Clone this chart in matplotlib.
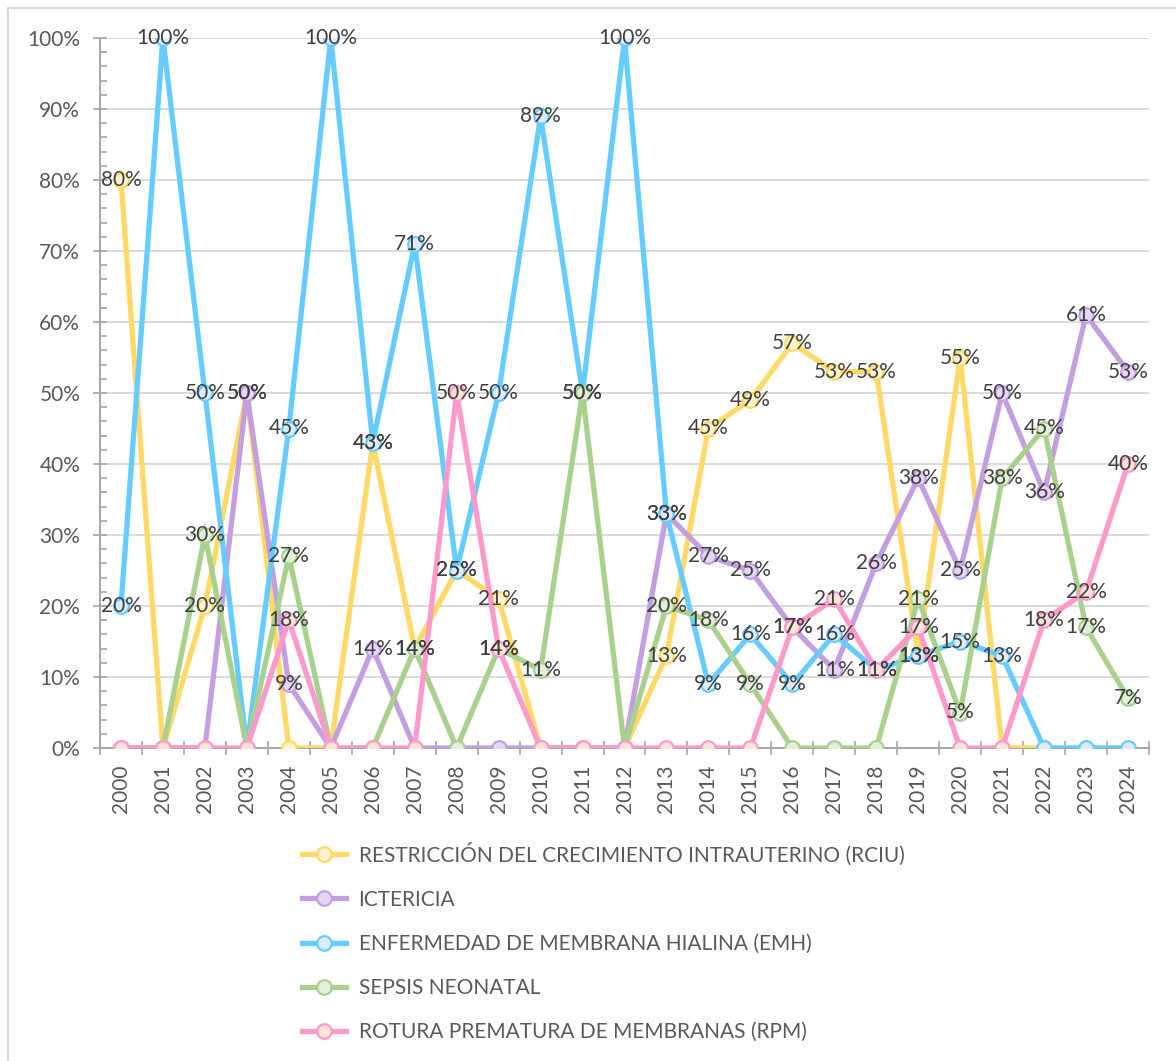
import matplotlib
matplotlib.use("Agg")
import matplotlib.pyplot as plt
from matplotlib.lines import Line2D
from matplotlib.ticker import MultipleLocator, FuncFormatter
import numpy as np

# Data (percent per year)
Years = [str(y) for y in range(2000, 2025)]

RCIU = [80, 0, 20, 50, 0, 0, 43, 14, 25, 21, 0, 0, 0, 13, 45, 49, 57, 53, 53, 13, 55, 0, 0, 0, 0]
Ictericia = [0, 0, 0, 50, 9, 0, 14, 0, 0, 0, 0, 0, 0, 33, 27, 25, 17, 11, 26, 38, 25, 50, 36, 61, 53]
EMH = [20, 100, 50, 0, 45, 100, 43, 71, 25, 50, 89, 50, 100, 33, 9, 16, 9, 16, 11, 13, 15, 13, 0, 0, 0]
Sepsis = [0, 0, 30, 0, 27, 0, 0, 14, 0, 14, 11, 50, 0, 20, 18, 9, 0, 0, 0, 21, 5, 38, 45, 17, 7]
RPM = [0, 0, 0, 0, 18, 0, 0, 0, 50, 14, 0, 0, 0, 0, 0, 0, 17, 21, 11, 17, 0, 0, 18, 22, 40]

SeriesNames = [
    "RESTRICCIÓN DEL CRECIMIENTO INTRAUTERINO (RCIU)",
    "ICTERICIA",
    "ENFERMEDAD DE MEMBRANA HIALINA (EMH)",
    "SEPSIS NEONATAL",
    "ROTURA PREMATURA DE MEMBRANAS (RPM)",
]
SeriesValues = [RCIU, Ictericia, EMH, Sepsis, RPM]
LineColors = ["#FFD966", "#C49FE0", "#66CCFF", "#A9D18E", "#FF99CC"]
FillColors = ["#FFF2CC", "#E6D6F5", "#DDEBF7", "#E2F0D9", "#FCE4D6"]

plt.rcParams["font.family"] = ["Lato", "DejaVu Sans"]

fig = plt.figure(figsize=(11.76, 10.61), dpi=100)
ax = fig.add_axes([100 / 1176, 1 - 748 / 1061, 1049 / 1176, 710 / 1061])

x = np.arange(len(Years))
for Name, Values, LineColor, FillColor in zip(SeriesNames, SeriesValues, LineColors, FillColors):
    ax.plot(x, np.array(Values) / 100, color=LineColor, linewidth=3.8, marker="o",
            markersize=10.5, markerfacecolor=FillColor, markeredgecolor=LineColor,
            markeredgewidth=1.6, label=Name, solid_joinstyle="miter", zorder=3)

# data labels (Excel hides the zero ones)
for Values in SeriesValues:
    for i, v in enumerate(Values):
        if v != 0:
            ax.text(x[i], v / 100, f"{v}%", ha="center", va="center",
                    fontsize=15, color="#404040", zorder=5)

ax.set_xlim(-0.5, len(Years) - 0.5)
ax.set_ylim(0, 1)

ax.yaxis.set_major_locator(MultipleLocator(0.1))
ax.yaxis.set_minor_locator(MultipleLocator(0.02))
ax.yaxis.set_major_formatter(FuncFormatter(lambda v, p: f"{v * 100:.0f}%"))
ax.tick_params(axis="y", which="major", direction="inout", length=10.5, width=1.2,
               color="#A6A6A6", labelsize=15, labelcolor="#595959", pad=9)
ax.tick_params(axis="y", which="minor", direction="in", length=5, width=1.2, color="#A6A6A6")

ax.set_xticks(x)
ax.set_xticklabels(Years, rotation=90)
ax.set_xticks(np.arange(-0.5, len(Years)), minor=True)
ax.tick_params(axis="x", which="major", length=0, labelsize=15, labelcolor="#595959", pad=12)
ax.tick_params(axis="x", which="minor", direction="inout", length=9.5, width=1.2, color="#A6A6A6")

ax.grid(axis="y", which="major", color="#D9D9D9", linewidth=1.4, zorder=0)
ax.set_axisbelow(True)
for Side in ["top", "right"]:
    ax.spines[Side].set_visible(False)
for Side in ["left", "bottom"]:
    ax.spines[Side].set_color("#A6A6A6")
    ax.spines[Side].set_linewidth(1.4)

fig.legend(loc="upper left", bbox_to_anchor=(294 / 1176, 1 - 834 / 1061), ncol=1,
           frameon=False, fontsize=15, labelcolor="#595959", handlelength=2.1,
           handletextpad=0.6, labelspacing=1.16, borderaxespad=0)

# outer chart border (only top and left edges show in the crop)
fig.add_artist(Line2D([8 / 1176, 8 / 1176], [0, 1 - 8 / 1061], color="#D9D9D9", linewidth=1.5))
fig.add_artist(Line2D([8 / 1176, 1], [1 - 8 / 1061, 1 - 8 / 1061], color="#D9D9D9", linewidth=1.5))

fig.savefig("out.png", dpi=100)
